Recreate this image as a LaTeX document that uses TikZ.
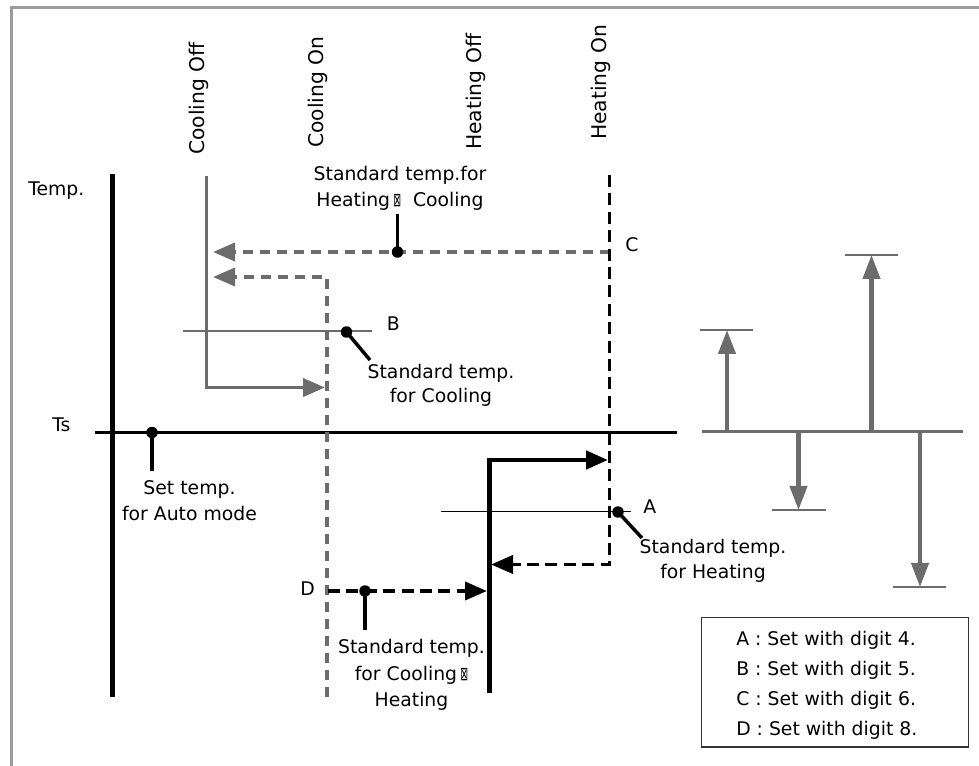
\documentclass[tikz,border=0pt]{standalone}
\usepackage{fontspec}
\setmainfont{DejaVu Sans}
\usetikzlibrary{arrows.meta}
\definecolor{framegray}{RGB}{155,155,155}
\definecolor{linegray}{RGB}{108,108,108}
\newcommand\tofuglyph{\scalebox{0.5}[1]{⊠}}
\begin{document}
\begin{tikzpicture}[x=0.75pt,y=-0.75pt,
  txt/.style={inner sep=0pt,font=\fontsize{14.1pt}{19.5pt}\selectfont},
  vtxt/.style={inner sep=0pt,rotate=90,anchor=west,font=\fontsize{15.2pt}{19pt}\selectfont},
  dotmark/.style={circle,fill=black,inner sep=0pt,minimum size=8.6pt},
  leader/.style={black,line width=2.6pt},
  gdash/.style={dash pattern=on 7.5pt off 5.25pt},
  bdash/.style={dash pattern=on 9pt off 4.8pt},
  ctip/.style={-{Triangle[length=16.5pt,width=13.5pt]}},
  rtip/.style={-{Triangle[length=18pt,width=12.75pt]}},
  capline/.style={linegray,line width=1.2pt}]
\useasboundingbox (0,0) rectangle (979,766);
% frame
\coordinate (fBL) at (11.5,766);
\coordinate (fTL) at (11.5,7.5);
\coordinate (fTR) at (979,7.5);
\draw[framegray,line width=2.4pt] (fBL) -- (fTL) -- (fTR);
% axes
\coordinate (axT) at (112.5,174);
\coordinate (axB) at (112.5,697);
\draw[line width=3.1pt] (axT) -- (axB);
\coordinate (tsL) at (95,432.5);
\coordinate (tsR) at (677,432.5);
\draw[line width=2.8pt] (tsL) -- (tsR);
\node[dotmark] (dSet) at (152,432.5) {};
\coordinate (lSet) at (152,471);
\draw[leader] (dSet.center) -- (lSet);
% cooling off (solid gray)
\coordinate (coT) at (206.5,176);
\coordinate (coB) at (206.5,387.5);
\coordinate (coTip) at (325,387.5);
\draw[linegray,line width=2.8pt,ctip] (coT) -- (coB) -- (coTip);
% gray dashed arrows
\coordinate (c1s) at (609.5,252);
\coordinate (c1e) at (213,252);
\draw[linegray,line width=2.8pt,gdash,ctip] (c1s) -- (c1e);
\coordinate (conB) at (327,697);
\coordinate (conT) at (327,277);
\coordinate (c2e) at (213,277);
\draw[linegray,line width=2.8pt,gdash,ctip] (conB) -- (conT) -- (c2e);
% heating on (black dashed)
\coordinate (honT) at (609.5,175);
\coordinate (honB) at (609.5,564.5);
\coordinate (h1e) at (491,564.5);
\draw[line width=2.9pt,bdash,ctip] (honT) -- (honB) -- (h1e);
% heating off (black solid)
\coordinate (hofB) at (489.5,693);
\coordinate (hofT) at (489.5,460);
\coordinate (hofTip) at (608,460);
\draw[line width=3.5pt,ctip] (hofB) -- (hofT) -- (hofTip);
% D
\coordinate (dS) at (328,591);
\coordinate (dE) at (487,591);
\draw[line width=2.9pt,bdash,ctip] (dS) -- (dE);
\node[dotmark] (dD) at (365,591) {};
\coordinate (lD) at (365,630);
\draw[leader] (dD.center) -- (lD);
% B
\coordinate (bL) at (183,331);
\coordinate (bR) at (372,331);
\draw[linegray,line width=1.2pt] (bL) -- (bR);
\node[dotmark] (dB) at (346.5,332) {};
\coordinate (lB) at (370,360);
\draw[leader] (dB.center) -- (lB);
% A
\coordinate (aL) at (441,511.5);
\coordinate (aR) at (631,511.5);
\draw[line width=1.2pt] (aL) -- (aR);
\node[dotmark] (dA) at (618,512) {};
\coordinate (lA) at (642,538);
\draw[leader] (dA.center) -- (lA);
% C dot
\node[dotmark] (dC) at (397.5,252) {};
\coordinate (lC) at (397.5,214);
\draw[leader] (dC.center) -- (lC);
% labels
\node[txt,anchor=base west] (tTemp) at (28,195.7) {Temp.};
\node[txt,anchor=base west] (tTs) at (52,432) {Ts};
\node[txt,anchor=base west] (tC) at (625,251.7) {C};
\node[txt,anchor=base west] (tB) at (386.5,330.5) {B};
\node[txt,anchor=base west] (tA) at (643,514) {A};
\node[txt,anchor=base west] (tD) at (300,595) {D};
\node[txt,align=center,anchor=north,font=\fontsize{14.1pt}{20pt}\selectfont] (sHC) at (400,165.5) {Standard temp.for\\Heating\,\tofuglyph\ \ Cooling};
\node[txt,align=center,anchor=north,font=\fontsize{14.1pt}{18pt}\selectfont] (sCool) at (441,363.5) {Standard temp.\\for Cooling};
\node[txt,align=center,anchor=north,font=\fontsize{14.1pt}{18.75pt}\selectfont] (sHeat) at (713,538.5) {Standard temp.\\for Heating};
\node[txt,align=center,anchor=north,font=\fontsize{14.1pt}{20pt}\selectfont] (sCH) at (411.5,639) {Standard temp.\\for Cooling\,\tofuglyph\\Heating};
\node[txt,align=center,anchor=north,font=\fontsize{14.1pt}{19.5pt}\selectfont] (sSet) at (189.5,480) {Set temp.\\for Auto mode};
% rotated labels
\node[vtxt] (vCO) at (198.5,155) {Cooling Off};
\node[vtxt] (vCN) at (317.5,148) {Cooling On};
\node[vtxt] (vHO) at (476,150) {Heating Off};
\node[vtxt] (vHN) at (600.5,140) {Heating On};
% right diagram
\coordinate (rL) at (702,431.5);
\coordinate (rR) at (963,431.5);
\draw[linegray,line width=2.8pt] (rL) -- (rR);
\coordinate (u1b) at (727,431.5);
\coordinate (u1t) at (727,330);
\draw[linegray,line width=3.1pt,rtip] (u1b) -- (u1t);
\coordinate (u1l) at (700,330);
\coordinate (u1r) at (753,330);
\draw[capline] (u1l) -- (u1r);
\coordinate (u2b) at (871.5,431.5);
\coordinate (u2t) at (871.5,255);
\draw[linegray,line width=3.1pt,rtip] (u2b) -- (u2t);
\coordinate (u2l) at (845,255);
\coordinate (u2r) at (898,255);
\draw[capline] (u2l) -- (u2r);
\coordinate (d1b) at (798.5,431.5);
\coordinate (d1t) at (798.5,510);
\draw[linegray,line width=3.1pt,rtip] (d1b) -- (d1t);
\coordinate (d1l) at (772,510);
\coordinate (d1r) at (826,510);
\draw[capline] (d1l) -- (d1r);
\coordinate (d2b) at (920,431.5);
\coordinate (d2t) at (920,587);
\draw[linegray,line width=3.1pt,rtip] (d2b) -- (d2t);
\coordinate (d2l) at (893,587);
\coordinate (d2r) at (946,587);
\draw[capline] (d2l) -- (d2r);
% legend box
\node[draw=black!80,line width=0.9pt,inner sep=0pt,minimum width=200.25pt,minimum height=97.1pt,anchor=north west] (legend) at (700.5,617) {};
\node[txt,align=left,anchor=north west,font=\fontsize{14.1pt}{22.5pt}\selectfont] (legTxt) at (736,630.7) {A : Set with digit 4.\\B : Set with digit 5.\\C : Set with digit 6.\\D : Set with digit 8.};
\end{tikzpicture}
\end{document}
